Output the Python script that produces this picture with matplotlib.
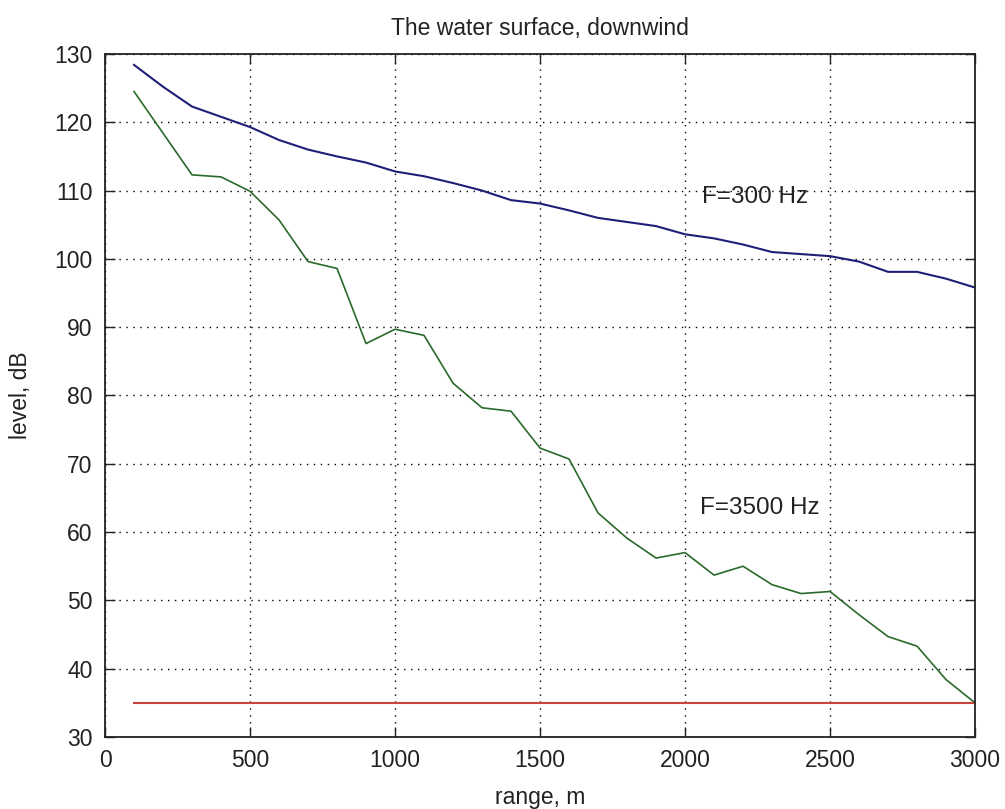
import matplotlib
matplotlib.use("Agg")
import matplotlib.pyplot as plt

range_m = [100, 200, 300, 400, 500, 600, 700, 800, 900, 1000,
           1100, 1200, 1300, 1400, 1500, 1600, 1700, 1800, 1900, 2000,
           2100, 2200, 2300, 2400, 2500, 2600, 2700, 2800, 2900, 3000]
level_300 = [128.4, 125.2, 122.3, 120.8, 119.3, 117.4, 116.0, 115.0, 114.1, 112.8,
             112.1, 111.1, 110.0, 108.6, 108.1, 107.1, 106.0, 105.4, 104.8, 103.6,
             103.0, 102.1, 101.0, 100.7, 100.4, 99.6, 98.1, 98.1, 97.1, 95.8]
level_3500 = [124.5, 118.4, 112.3, 112.0, 109.9, 105.7, 99.6, 98.6, 87.6, 89.7,
              88.8, 81.8, 78.2, 77.7, 72.3, 70.7, 62.8, 59.1, 56.2, 57.0,
              53.7, 55.0, 52.3, 51.0, 51.3, 47.9, 44.7, 43.3, 38.4, 35.0]
threshold_x = [100, 3000]
threshold_y = [35, 35]

xticks = [0, 500, 1000, 1500, 2000, 2500, 3000]
yticks = [30, 40, 50, 60, 70, 80, 90, 100, 110, 120, 130]

plt.rcParams['font.family'] = ['Liberation Sans', 'DejaVu Sans']

fig = plt.figure(figsize=(10.05, 8.09), dpi=100)
ax = fig.add_axes([0.1045, 0.089, 0.8657, 0.8443])

ax.plot(range_m, level_300, color='#1f1f78', lw=1.5)
ax.plot(range_m, level_3500, color='#2a6a2a', lw=1.2)
ax.plot(threshold_x, threshold_y, color='#c8443a', lw=1.5)

ax.set_xlim(0, 3000)
ax.set_ylim(30, 130)
ax.set_xticks(xticks)
ax.set_yticks(yticks)
ax.tick_params(direction='in', length=7, width=1, top=True, right=True,
               labelsize=16.5, colors='#222222', pad=9)
ax.grid(True, color='black', linestyle=(0, (1, 4)), linewidth=1.0)
for s in ax.spines.values():
    s.set_linewidth(1.3)
    s.set_color('#222222')

ax.text(2060, 109, 'F=300 Hz', fontsize=17.5, va='center', ha='left', color='#222222')
ax.text(2050, 63.5, 'F=3500 Hz', fontsize=17.5, va='center', ha='left', color='#222222')

ax.set_title('The water surface, downwind', fontsize=16.5, color='#222222', pad=14)
ax.set_xlabel('range, m', fontsize=16.5, color='#222222', labelpad=10)
ax.set_ylabel('level, dB', fontsize=16.5, color='#222222', labelpad=16)

fig.savefig('out.png', dpi=100, facecolor='white')
